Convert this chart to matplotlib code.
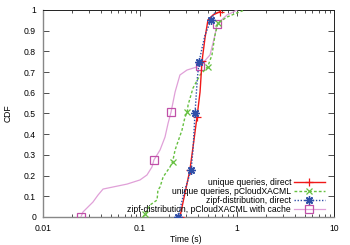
import matplotlib
matplotlib.use("Agg")
import matplotlib.pyplot as plt
from matplotlib.ticker import FixedLocator, FixedFormatter, LogLocator, NullFormatter

plt.rcParams['font.family'] = ['Liberation Sans', 'DejaVu Sans']

# Series: time (s) and CDF
red_x = [0.258, 0.291, 0.327, 0.360, 0.387, 0.416, 0.436, 0.468, 0.502, 0.566, 0.668]
red_y = [0.0, 0.116, 0.227, 0.372, 0.483, 0.604, 0.754, 0.865, 0.952, 0.976, 0.992]
red_marks = [0, 2, 4, 6, 10]

green_x = [0.107, 0.113, 0.127, 0.150, 0.153, 0.161, 0.173, 0.204, 0.217, 0.230, 0.271,
           0.291, 0.307, 0.313, 0.352, 0.416, 0.499, 0.552, 0.593, 0.637, 0.789, 1.0, 1.153]
green_y = [0.0, 0.015, 0.058, 0.082, 0.130, 0.145, 0.193, 0.242, 0.267, 0.324, 0.420,
           0.483, 0.506, 0.541, 0.623, 0.686, 0.726, 0.783, 0.879, 0.937, 0.966, 0.986, 0.997]
green_marks = [1, 8, 12, 16, 19]

blue_x = [0.247, 0.284, 0.336, 0.352, 0.369, 0.380, 0.390, 0.406, 0.436, 0.468, 0.540, 0.600]
blue_y = [0.0, 0.116, 0.227, 0.324, 0.502, 0.590, 0.670, 0.749, 0.816, 0.879, 0.952, 0.995]
blue_marks = [0, 2, 4, 7, 10]

mag_x = [0.0246, 0.0258, 0.0271, 0.0327, 0.0369, 0.0416, 0.0527, 0.0735, 0.100, 0.118, 0.133,
         0.139, 0.161, 0.181, 0.195, 0.209, 0.230, 0.258, 0.305, 0.387, 0.416, 0.527, 0.593,
         0.622, 0.789, 0.910, 1.0]
mag_y = [0.0, 0.024, 0.034, 0.072, 0.106, 0.135, 0.145, 0.159, 0.179, 0.203, 0.242,
         0.275, 0.324, 0.386, 0.454, 0.507, 0.604, 0.686, 0.710, 0.725, 0.729, 0.783, 0.879,
         0.932, 0.976, 0.990, 1.0]
mag_marks = [0, 11, 15, 20, 23]

labels = ["unique queries, direct", "unique queries, pCloudXACML",
          "zipf-distribution, direct", "zipf-distribution, pCloudXACML with cache"]

x_ticks = [0.01, 0.1, 1, 10]
x_ticklabels = ["0.01", "0.1", "1", "10"]
y_ticks = [0, 0.1, 0.2, 0.3, 0.4, 0.5, 0.6, 0.7, 0.8, 0.9, 1.0]
y_ticklabels = ["0", "0.1", "0.2", "0.3", "0.4", "0.5", "0.6", "0.7", "0.8", "0.9", "1"]

W, H = 350, 245
fig = plt.figure(figsize=(W/100, H/100), dpi=100)
ax = fig.add_axes([43/W, 1-217/H, (334-43)/W, (217-10)/H])

ax.plot(red_x, red_y, color='#f01818', lw=1.0, marker='+', ms=6, mew=0.9,
        markevery=red_marks, label=labels[0], zorder=5)
ax.plot(green_x, green_y, color='#66c040', lw=1.0, ls=(0, (2, 1.5)), marker='x', ms=5, mew=0.9,
        markevery=green_marks, label=labels[1], zorder=4)
ax.plot(blue_x, blue_y, color='#2f4fa8', lw=1.0, ls=(0, (1, 1.2)), marker=(8, 2, 0), ms=6, mew=1.0,
        markevery=blue_marks, label=labels[2], zorder=6)
ax.plot(mag_x, mag_y, color='#e0a0d8', lw=0.9, marker='s', ms=5.5, mew=0.9, mec='#c050a8',
        mfc='none', markevery=mag_marks, label=labels[3], zorder=3)

ax.set_xscale('log')
ax.set_xlim(0.01, 10)
ax.set_ylim(0, 1)
ax.xaxis.set_major_locator(FixedLocator(x_ticks))
ax.xaxis.set_major_formatter(FixedFormatter(x_ticklabels))
ax.xaxis.set_minor_locator(LogLocator(base=10, subs=range(2, 10)))
ax.xaxis.set_minor_formatter(NullFormatter())
ax.yaxis.set_major_locator(FixedLocator(y_ticks))
ax.yaxis.set_major_formatter(FixedFormatter(y_ticklabels))

ax.tick_params(which='both', direction='in', top=True, right=True, labelsize=6.2, color='#333333',
               width=0.6)
ax.tick_params(which='major', length=4)
ax.tick_params(which='minor', length=2)
ax.tick_params(axis='y', pad=5)
ax.tick_params(axis='x', pad=5)

for side in ['top', 'right']:
    ax.spines[side].set_color('#222222')
    ax.spines[side].set_linewidth(0.7)
for side in ['left', 'bottom']:
    ax.spines[side].set_color('#888888')
    ax.spines[side].set_linewidth(1.0)

fig.text(186/W, 1-239/H, "Time (s)", fontsize=6.2, ha='center', va='center')
fig.text(8/W, 1-113/H, "CDF", fontsize=6.2, ha='center', va='center', rotation=90)

leg = ax.legend(loc='lower right', frameon=False, fontsize=6.2, markerfirst=False,
                handlelength=3.6, handletextpad=0.3, labelspacing=0.0,
                borderaxespad=0.0, bbox_to_anchor=(0.98, 0.0), borderpad=0.4)
for t in leg.get_texts():
    t.set_ha('right')

fig.savefig("out.png", dpi=100)
